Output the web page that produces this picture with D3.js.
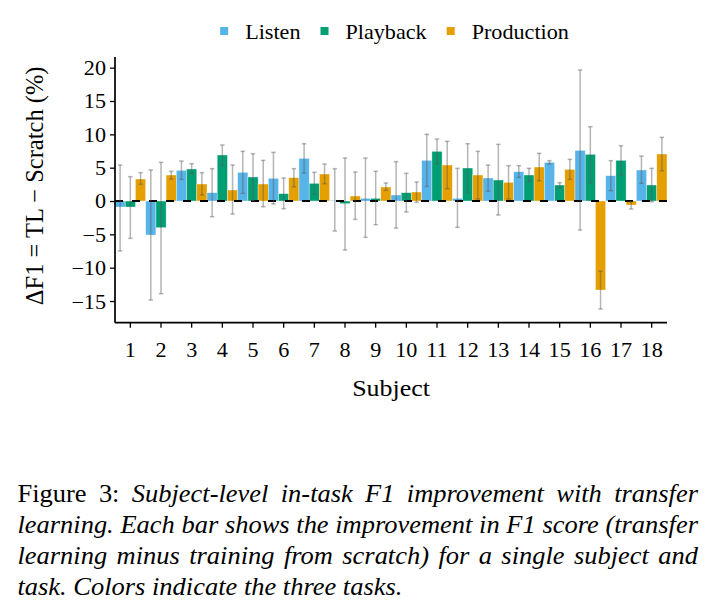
<!DOCTYPE html>
<html><head><meta charset="utf-8">
<script src="https://cdn.jsdelivr.net/npm/d3@7"></script>
<style>
body{margin:0;background:#fff}
svg{display:block}
</style>
</head><body>
<svg id="c" width="711" height="616"></svg>
<script>
// ---------- data ----------
const subjects = ["1","2","3","4","5","6","7","8","9","10","11","12","13","14","15","16","17","18"];
const tasks = ["Listen","Playback","Production"];
const taskColors = ["#56B4E9","#009E73","#E69F00"];

const listen      = [-0.9,-5.1,4.6,1.25,4.3,3.4,6.4,0.1,0.4,0.9,6.1,0.4,3.45,4.4,5.8,7.6,3.8,4.65];
const listenLow   = [-7.5,-14.85,3.25,-2.35,1.15,-0.45,4.2,-4.5,-5.45,-4.05,2.2,-3.95,1.45,3.55,5.55,-4.35,1.55,2.65];
const listenHigh  = [5.4,4.65,6.0,4.85,7.45,7.3,8.6,4.85,6.45,5.9,10.0,4.9,5.4,5.3,6.05,19.65,6.05,6.75];

const playback     = [-0.9,-4.0,4.8,6.9,3.6,1.1,2.65,-0.4,0.4,1.25,7.45,4.95,3.15,3.9,2.4,7.0,6.1,2.4];
const playbackLow  = [-5.6,-13.9,4.1,5.35,0.05,-1.15,1.05,-7.35,-3.55,-1.65,5.6,1.3,-2.1,2.9,2.05,2.75,3.9,-0.1];
const playbackHigh = [3.65,5.8,5.6,8.4,7.1,3.45,4.3,6.45,4.45,4.15,9.3,8.6,8.5,4.9,2.75,11.15,8.3,4.9];

const production     = [3.3,3.9,2.55,1.65,2.55,3.5,4.05,0.75,2.1,1.35,5.4,3.9,2.8,5.1,4.75,-13.35,-0.6,7.05];
const productionLow  = [2.5,3.3,0.9,-1.95,-0.85,2.15,2.6,-2.75,1.6,-0.2,1.85,0.3,0.3,3.05,3.25,-16.2,-1.2,4.55];
const productionHigh = [4.25,4.45,4.25,5.4,6.1,4.85,5.55,4.35,2.7,2.85,8.95,7.45,5.3,7.15,6.25,-10.5,-0.1,9.55];

const yTicks = [-15,-10,-5,0,5,10,15,20];
const yTitle = "ΔF1 = TL − Scratch (%)";
const xTitle = "Subject";
const captionLines = [
  "Figure 3: Subject-level in-task F1 improvement with transfer",
  "learning. Each bar shows the improvement in F1 score (transfer",
  "learning minus training from scratch) for a single subject and",
  "task. Colors indicate the three tasks."
];

// ---------- build table ----------
const seriesVals = [listen, playback, production];
const seriesLow = [listenLow, playbackLow, productionLow];
const seriesHigh = [listenHigh, playbackHigh, productionHigh];
const rows = [];
subjects.forEach((s, i) => {
  tasks.forEach((t, k) => {
    rows.push({subject: s, task: t, value: seriesVals[k][i], low: seriesLow[k][i], high: seriesHigh[k][i]});
  });
});

// ---------- layout ----------
const FONT = '"Liberation Serif"';
const SX = 1.08; // horizontal glyph stretch of the original figure
const svg = d3.select("#c");
const P = {left: 115, right: 667, top: 57, bottom: 322.7};
const txt = sel => sel.style("font-family", FONT).attr("fill", "#000");

const x0 = d3.scaleBand().domain(subjects).range([P.left, P.right]).padding(0);
const x1 = d3.scaleBand().domain(tasks).range([0, x0.bandwidth()]).padding(0);
const y = d3.scaleLinear().domain([-18.25, 21.6]).range([P.bottom, P.top]);
const color = d3.scaleOrdinal().domain(tasks).range(taskColors);

// bars
svg.append("g").selectAll("rect").data(rows).join("rect")
  .attr("x", d => x0(d.subject) + x1(d.task))
  .attr("width", x1.bandwidth())
  .attr("y", d => y(Math.max(0, d.value)))
  .attr("height", d => Math.abs(y(d.value) - y(0)))
  .attr("fill", d => color(d.task))
  .attr("stroke", "#fff").attr("stroke-width", 0.6).attr("stroke-opacity", 0.6);

// zero dashed line
svg.append("line")
  .attr("x1", P.left).attr("x2", P.right)
  .attr("y1", y(0)).attr("y2", y(0))
  .attr("stroke", "#000").attr("stroke-width", 2)
  .attr("stroke-dasharray", "8,9");

// error bars
const eg = svg.append("g").attr("stroke", "rgb(90,90,90)").attr("stroke-opacity", 0.45).attr("stroke-width", 1.5);
const cx = d => x0(d.subject) + x1(d.task) + x1.bandwidth() / 2;
const capW = 2.2;
eg.selectAll("line.v").data(rows).join("line").attr("class", "v")
  .attr("x1", cx).attr("x2", cx)
  .attr("y1", d => y(d.low)).attr("y2", d => y(d.high));
eg.selectAll("line.t").data(rows).join("line").attr("class", "t")
  .attr("x1", d => cx(d) - capW).attr("x2", d => cx(d) + capW)
  .attr("y1", d => y(d.high)).attr("y2", d => y(d.high));
eg.selectAll("line.b").data(rows).join("line").attr("class", "b")
  .attr("x1", d => cx(d) - capW).attr("x2", d => cx(d) + capW)
  .attr("y1", d => y(d.low)).attr("y2", d => y(d.low));

// axes
const yAxis = svg.append("g").attr("transform", `translate(${P.left},0)`)
  .call(d3.axisLeft(y).tickValues(yTicks).tickSize(5).tickSizeOuter(0).tickPadding(4));
const xAxis = svg.append("g").attr("transform", `translate(0,${P.bottom})`)
  .call(d3.axisBottom(x0).tickSize(5).tickSizeOuter(0).tickPadding(9));
[yAxis, xAxis].forEach(ax => {
  ax.attr("font-family", FONT);
  ax.select(".domain").attr("stroke", "#000").attr("stroke-width", 1.7);
  ax.selectAll(".tick line").attr("stroke", "#000").attr("stroke-width", 1.3);
  ax.selectAll(".tick text").attr("font-size", 20.5).call(txt);
});
yAxis.selectAll(".tick text").each(function() {
  const t = d3.select(this);
  const xx = +t.attr("x");
  t.attr("x", null).attr("dy", "0.34em").attr("transform", `translate(${xx},0) scale(${SX},1)`);
});
xAxis.selectAll(".tick text").each(function() {
  const t = d3.select(this);
  const yy = +t.attr("y");
  t.attr("y", null).attr("dy", null)
   .attr("transform", `translate(0,${yy + 20.5}) scale(${SX},1)`);
});
// domain lines to full extent
yAxis.select(".domain").attr("d", `M0,${P.top}V${P.bottom}`);
xAxis.select(".domain").attr("d", `M${P.left},0H${P.right}`);

// axis titles
svg.append("text").call(txt).attr("font-size", 24.5).attr("text-anchor", "middle")
  .attr("transform", `translate(43,${(P.top + P.bottom) / 2 - 4}) rotate(-90)`)
  .text(yTitle);
svg.append("text").call(txt).attr("font-size", 24).attr("text-anchor", "middle")
  .attr("transform", `translate(${(P.left + P.right) / 2},396) scale(${SX},1)`)
  .text(xTitle);

// legend
const lg = svg.append("g");
const lgFont = 20.5, sq = 8, gapSqText = 17, gapItem = 20;
const items = tasks.map(t => {
  const tx = lg.append("text").call(txt).attr("font-size", lgFont).text(t);
  return {t, tx, w: tx.node().getComputedTextLength() * SX};
});
const total = d3.sum(items, d => sq + gapSqText + d.w) + gapItem * (items.length - 1);
let cur = 394.5 - total / 2;
items.forEach(d => {
  lg.append("rect").attr("x", cur).attr("y", 27).attr("width", sq).attr("height", sq).attr("fill", color(d.t));
  d.tx.attr("transform", `translate(${cur + sq + gapSqText},38.5) scale(${SX},1)`);
  cur += sq + gapSqText + d.w + gapItem;
});

// caption (justified)
const capFont = 24.5, capLeft = 17.5, capRight = 698, capBase0 = 501.5, capLead = 31.2;
captionLines.forEach((line, li) => {
  const words = line.split(" ");
  const g = svg.append("g");
  const nodes = words.map((w, wi) => {
    const isNormal = li === 0 && wi < 2;
    const t = g.append("text").call(txt).attr("font-size", capFont)
      .attr("font-style", isNormal ? "normal" : "italic").text(w);
    return {t, w: t.node().getComputedTextLength() * SX};
  });
  const sumW = d3.sum(nodes, d => d.w);
  const last = li === captionLines.length - 1;
  const gap = last ? capFont * 0.25 * SX : (capRight - capLeft - sumW) / (nodes.length - 1);
  let xx = capLeft;
  const yy = capBase0 + li * capLead;
  nodes.forEach(d => {
    d.t.attr("transform", `translate(${xx},${yy}) scale(${SX},1)`);
    xx += d.w + gap;
  });
});
</script>
</body></html>
